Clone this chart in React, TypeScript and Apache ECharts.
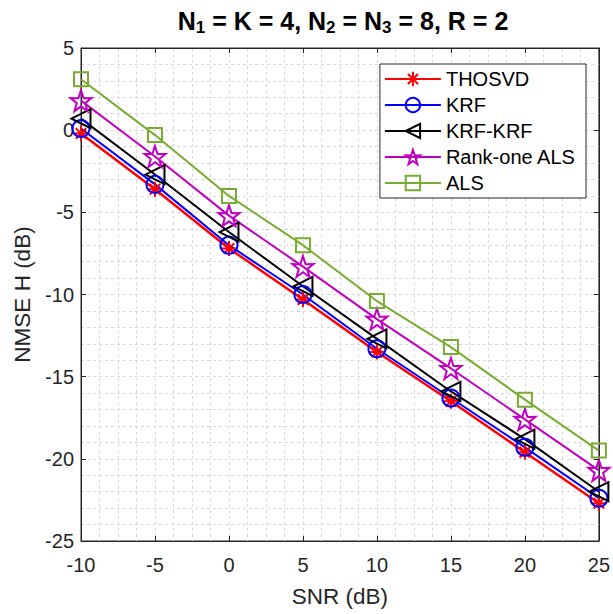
import React, { useEffect, useRef } from "react";
import * as echarts from "echarts";

const snr = [-10, -5, 0, 5, 10, 15, 20, 25];
const thosvd = [-0.2, -3.6, -7.2, -10.3, -13.5, -16.5, -19.6, -22.7];
const krf = [0.1, -3.3, -7.0, -10.0, -13.3, -16.3, -19.3, -22.4];
const krfkrf = [0.7, -2.7, -6.2, -9.5, -12.7, -15.9, -18.8, -22.0];
const rankOneAls = [1.8, -1.6, -5.2, -8.3, -11.5, -14.5, -17.6, -20.7];
const als = [3.1, -0.3, -4.0, -7.0, -10.4, -13.2, -16.4, -19.5];
const seriesNames = ["THOSVD", "KRF", "KRF-KRF", "Rank-one ALS", "ALS"];

const FONT = "Liberation Sans, Arial, sans-serif";
const AX = "#262626";

const asterisk = "path://M50,0L50,100M0,50L100,50M15,15L85,85M15,85L85,15";
const triLeft = "path://M0,50L100,0L100,100Z";
const pentagram =
  "path://M50,0L61.8,35.1L97.6,34.5L69,56.2L79.4,90.5L50,70L20.6,90.5L31,56.2L2.4,34.5L38.2,35.1Z";

function mk(name: string, vals: number[], color: string, symbol: string, size: number, lw: number) {
  return {
    name,
    type: "line",
    data: snr.map((x, i) => [x, vals[i]]),
    symbol,
    symbolSize: size,
    showAllSymbol: true,
    lineStyle: { color, width: lw },
    itemStyle: { color: "rgba(255,255,255,0)", borderColor: color, borderWidth: 2 },
    emphasis: { disabled: true },
    z: 3,
  };
}

export default function App() {
  const ref = useRef<HTMLDivElement>(null);
  useEffect(() => {
    const chart = echarts.init(ref.current!, undefined, { renderer: "svg" });
    const splitStyle = { show: true, lineStyle: { color: "#d9d9d9", type: [3, 3], width: 1 } };
    const edge = { show: true, onZero: false, lineStyle: { color: AX, width: 1 } };
    chart.setOption({
      animation: false,
      backgroundColor: "#ffffff",
      textStyle: { fontFamily: FONT },
      title: {
        text: "N{sub|1} = K = 4, N{sub|2} = N{sub|3} = 8, R = 2",
        left: 338,
        textAlign: "center",
        top: 0,
        textStyle: {
          fontFamily: FONT,
          fontSize: 25,
          fontWeight: "bold",
          color: "#000",
          rich: {
            sub: { fontFamily: FONT, fontSize: 17, fontWeight: "bold", color: "#000", padding: [14, 0, 0, 0] },
          },
        },
      },
      grid: { left: 81, right: 13, top: 48, bottom: 73, show: true, borderColor: AX, borderWidth: 1 },
      legend: {
        orient: "vertical",
        right: 27,
        top: 64,
        backgroundColor: "#ffffff",
        borderColor: AX,
        borderWidth: 1,
        borderRadius: 0,
        padding: [5, 10, 5, 4],
        itemWidth: 56,
        itemHeight: 18,
        itemGap: 6,
        textStyle: { fontFamily: FONT, fontSize: 20, color: "#000" },
        data: seriesNames,
      },
      xAxis: [
        {
          type: "value",
          min: -10,
          max: 25,
          interval: 5,
          name: "SNR (dB)",
          nameLocation: "middle",
          nameGap: 44,
          nameTextStyle: { fontFamily: FONT, fontSize: 22.5, color: AX },
          axisLine: edge,
          axisTick: { show: true, inside: true, length: 5, lineStyle: { color: AX } },
          axisLabel: { fontFamily: FONT, fontSize: 20, color: AX, margin: 14 },
          splitLine: splitStyle,
          minorTick: { show: false, splitNumber: 4 },
          minorSplitLine: splitStyle,
        },
        {
          type: "value",
          position: "top",
          min: -10,
          max: 25,
          interval: 5,
          axisLine: edge,
          axisTick: { show: true, inside: true, length: 5, lineStyle: { color: AX } },
          axisLabel: { show: false },
          splitLine: { show: false },
        },
      ],
      yAxis: [
        {
          type: "value",
          min: -25,
          max: 5,
          interval: 5,
          name: "NMSE H (dB)",
          nameLocation: "middle",
          nameGap: 46,
          nameTextStyle: { fontFamily: FONT, fontSize: 22.5, color: AX },
          axisLine: edge,
          axisTick: { show: true, inside: true, length: 5, lineStyle: { color: AX } },
          axisLabel: { fontFamily: FONT, fontSize: 20, color: AX, margin: 7 },
          splitLine: splitStyle,
          minorTick: { show: false, splitNumber: 5 },
          minorSplitLine: splitStyle,
        },
        {
          type: "value",
          position: "right",
          min: -25,
          max: 5,
          interval: 5,
          axisLine: edge,
          axisTick: { show: true, inside: true, length: 5, lineStyle: { color: AX } },
          axisLabel: { show: false },
          splitLine: { show: false },
        },
      ],
      series: [
        mk("THOSVD", thosvd, "#ff0000", asterisk, 15, 2.5),
        mk("KRF", krf, "#0000ff", "circle", 17, 2),
        mk("KRF-KRF", krfkrf, "#000000", triLeft, 19, 2),
        mk("Rank-one ALS", rankOneAls, "#c000c0", pentagram, 21, 2),
        mk("ALS", als, "#77ac30", "rect", 14, 2),
      ],
    });
    return () => chart.dispose();
  }, []);
  return (
    <div
      ref={ref}
      style={{ position: "fixed", left: 0, top: 0, width: 613, height: 614, overflow: "hidden" }}
    />
  );
}
